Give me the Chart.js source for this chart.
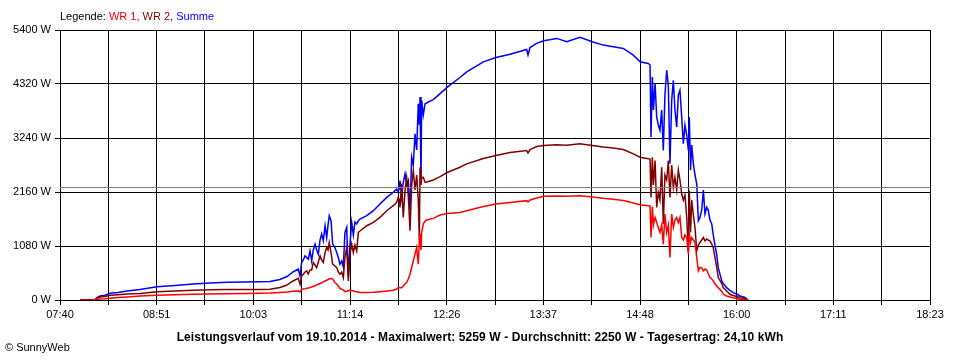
<!DOCTYPE html>
<html><head><meta charset="utf-8">
<script src="https://cdn.jsdelivr.net/npm/chart.js@4.4.1/dist/chart.umd.min.js"></script>
<style>
html,body{margin:0;padding:0;background:#fff;}
#wrap{position:relative;width:960px;height:360px;overflow:hidden;font-family:"Liberation Sans",Arial,sans-serif;color:#000;}
canvas{position:absolute;left:0;top:0;}
#legend{position:absolute;left:60px;top:10px;font-size:11px;line-height:13px;white-space:nowrap;}
#title{position:absolute;left:0;width:960px;top:330px;text-align:center;font-size:12px;letter-spacing:0.1px;font-weight:bold;line-height:14px;white-space:nowrap;}
#copy{position:absolute;left:5px;top:341px;font-size:11px;line-height:13px;white-space:nowrap;}
</style></head><body>
<div id="wrap"><canvas id="c" width="960" height="360"></canvas>
<div id="legend">Legende: <span style="color:#ff0000">WR 1,</span> <span style="color:#800000">WR 2,</span> <span style="color:#0000ff">Summe</span></div>
<div id="title">Leistungsverlauf vom 19.10.2014 - Maximalwert: 5259 W - Durchschnitt: 2250 W - Tagesertrag: 24,10 kWh</div>
<div id="copy">© SunnyWeb</div>
</div>
<script>
// time in minutes since midnight
const times = [474.8,485.9,487.3,489.6,493.3,497.0,502.9,509.5,519.1,531.7,545.0,558.3,570.9,583.4,596.7,607.8,615.2,622.6,627.8,632.2,
636.1,637.4,638.6,639.8,641.1,642.3,643.5,644.8,646.0,647.2,648.5,649.7,650.9,652.2,653.4,654.6,655.9,657.1,658.1,659.0,
660.3,661.5,663.2,664.5,665.7,666.9,668.2,669.4,670.6,671.9,673.1,674.3,675.6,676.8,678.0,679.3,680.5,681.7,686.7,691.6,
696.5,701.5,706.3,708.8,710.0,710.8,711.3,712.5,713.7,715.0,716.2,717.4,718.7,719.9,721.1,722.4,723.6,724.8,725.6,726.1,
726.8,727.3,728.5,729.8,731.0,732.2,735.9,740.9,746.5,755.6,760.6,772.9,782.2,792.6,804.9,805.9,807.4,812.3,817.5,827.1,
834.5,844.3,853.4,861.5,868.9,876.3,883.7,888.7,894.8,896.1,896.8,897.8,898.6,899.8,901.0,902.2,903.4,904.7,905.9,907.1,
908.4,909.6,910.8,912.1,913.3,914.5,915.8,917.0,918.2,919.5,920.7,921.9,923.2,924.4,925.1,926.0,926.9,928.1,929.3,930.6,
931.8,933.0,934.3,935.5,936.7,938.0,939.1,940.4,941.7,942.8,944.1,945.4,946.5,949.1,950.2,952.7,955.2,957.6,960.1,962.6,
966.3,968.5];
const wr1 = [0,0,10,20,25,35,50,60,80,95,105,115,120,125,130,135,140,150,160,175,
180,160,214,220,225,234,240,250,260,275,285,301,315,330,345,361,380,395,410,425,
428,420,348,320,280,234,215,200,167,175,185,194,190,180,170,165,160,150,150,155,
167,180,194,220,247,247,247,247,280,320,348,420,515,650,783,917,1050,716,1184,1318,
1000,1350,1519,1580,1600,1610,1632,1700,1730,1752,1786,1870,1920,1950,1987,1960,2000,2040,2073,2080,
2075,2087,2060,2033,2015,1990,1940,1907,1886,1880,1250,1870,1500,1652,1550,1450,1351,1500,1118,1720,
1350,1500,849,1720,1450,1600,1652,1550,1650,1250,1200,1300,1250,916,1350,1150,1250,1200,1150,849,
582,650,640,582,620,600,530,448,420,382,320,281,247,170,114,80,60,46,30,14,
10,0];
const wr2 = [0,0,40,60,70,95,105,120,130,165,180,195,205,208,210,212,215,250,300,380,
435,315,480,515,560,582,520,600,600,749,700,648,760,883,800,749,950,1050,1000,1150,
950,716,680,648,560,515,560,448,849,1050,380,900,1118,950,1100,983,1351,1380,1485,1552,
1652,1786,1886,1953,2053,2000,1853,2322,1652,2188,2455,2100,1385,2300,2589,2200,2500,2000,1184,2656,
2300,2450,2455,2355,2360,2370,2400,2469,2555,2656,2723,2830,2890,2950,2990,2940,3010,3070,3091,3105,
3095,3124,3090,3058,3040,3010,2923,2856,2823,2820,2053,2856,2300,2789,1853,2150,2000,2656,1519,2500,
2400,2789,2053,2700,2250,2455,2200,2600,2400,2120,2000,2100,1652,983,2188,1350,2000,1700,1452,983,
1100,1150,1200,1250,1180,1220,1200,1180,1118,1050,849,648,448,330,247,180,114,90,70,46,
30,0];
const summe = [0,0,50,80,95,135,150,180,210,265,290,320,340,355,360,365,370,410,470,560,
616,482,749,800,883,850,817,983,783,1000,1118,1000,917,1200,1318,1184,1485,1250,1500,1686,
1585,1118,1050,950,850,716,780,660,1351,1452,480,1100,1552,1300,1560,1520,1585,1619,1686,1786,
1920,2053,2154,2221,2154,2254,2388,2053,2350,2522,2300,2388,1786,2856,2700,3325,3000,3926,3500,4060,
2388,3994,3700,3926,3940,3960,4007,4127,4261,4450,4562,4763,4850,4917,5011,4900,5050,5132,5185,5232,
5165,5252,5165,5098,5065,5031,4897,4763,4730,4700,3258,4462,3800,4328,3659,3500,3392,3800,2990,4100,
4596,4300,2723,4000,4395,3800,3459,4100,4194,3650,3124,3500,3300,2990,3659,2600,3100,2723,2500,2322,
1585,1652,1800,2200,1720,1853,1800,1600,1519,1300,1100,900,648,382,330,247,190,147,120,80,
50,0];
const average = 2250;
const timeLabels = ['07:40','08:51','10:03','11:14','12:26','13:37','14:48','16:00','17:11','18:23'];
const yTickValues = [0,1080,2160,3240,4320,5400];
const xMin = 460, xMax = 1103;

const pts = arr => times.map((t,i)=>({x:t,y:arr[i]}));

Chart.defaults.font.family = '"Liberation Sans", Arial, sans-serif';
Chart.defaults.font.size = 11;
Chart.defaults.color = '#000';

new Chart(document.getElementById('c'), {
  type: 'line',
  data: {
    datasets: [
      {data:[{x:xMin,y:average},{x:xMax,y:average}], borderColor:'#808080', borderWidth:1},
      {data:pts(wr1), borderColor:'#ff0000'},
      {data:pts(wr2), borderColor:'#800000'},
      {data:pts(summe), borderColor:'#0000ff'}
    ]
  },
  options: {
    responsive:false, animation:false, devicePixelRatio:1,
    layout:{padding:{left:0,right:30,top:30,bottom:40}},
    plugins:{legend:{display:false}, tooltip:{enabled:false}, title:{display:false}},
    elements:{point:{radius:0}, line:{borderWidth:1.5, tension:0, fill:false}},
    scales:{
      x:{type:'linear', min:xMin, max:xMax,
        afterBuildTicks: ax => { ax.ticks = Array.from({length:19},(_,k)=>({value: xMin + k*(xMax-xMin)/18})); },
        ticks:{autoSkip:false, maxRotation:0, minRotation:0, padding:3, color:'#000',
          callback:(v,i)=> i%2===0 ? timeLabels[i/2] : ''},
        grid:{color:'#000', lineWidth:1, tickLength:5, tickColor:'#000'},
        border:{color:'#000', width:1},
        afterFit: s => { s.height = 20; }
      },
      y:{min:0, max:5400,
        afterBuildTicks: ax => { ax.ticks = yTickValues.map(v=>({value:v})); },
        ticks:{padding:4, color:'#000', callback:v => v + ' W'},
        grid:{color:'#000', lineWidth:1, tickLength:5, tickColor:'#000'},
        border:{color:'#000', width:1},
        afterFit: s => { s.width = 60; }
      }
    }
  }
});
</script>
</body></html>
